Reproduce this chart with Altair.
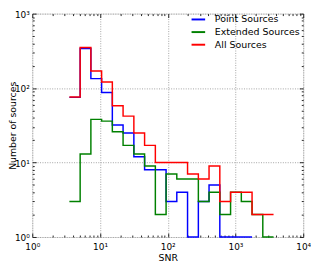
import altair as alt
import pandas as pd

# Histogram bin edges (SNR, log-spaced) and counts
edges = [3.53, 5.09, 7.33, 10.56, 15.2, 21.9, 31.6, 45.5, 65.6, 94.5,
         136, 196, 283, 407, 587, 846, 1219, 1756, 2530, 3646]
point_counts = [75, 340, 134, 87, 32, 25, 12, 8, 8, 3, 4, 1, 3, 5, 1, 1, 1]
extended_counts = [3, 13, 38, 36, 26, 17, 13, 9, 2, 7, 6, 6, 3, 4, 2, 4, 3, 2, 1]
all_counts = [76, 350, 170, 121, 58, 42, 25, 17, 10, 10, 10, 7, 6, 9, 3, 4, 4, 2, 2]

series_names = ["Point Sources", "Extended Sources", "All Sources"]
series_colors = ["#0000ff", "#008000", "#ff0000"]

x_major = [1, 10, 100, 1000, 10000]
y_major = [1, 10, 100, 1000]
minor_steps = [2, 3, 4, 5, 6, 7, 8, 9]
x_minor = [m * d for d in [1, 10, 100, 1000] for m in minor_steps]
y_minor = [m * d for d in [1, 10, 100] for m in minor_steps]

rows = []
for name, counts in zip(series_names, [point_counts, extended_counts, all_counts]):
    for i, c in enumerate(counts):
        rows.append({"series": name, "snr": edges[i], "count": c})
    rows.append({"series": name, "snr": edges[len(counts)], "count": counts[-1]})
df = pd.DataFrame(rows)

FONT = "DejaVu Sans"
W, H = 279, 230
xs = alt.Scale(type="log", domain=[1, 10000], nice=False)
ys = alt.Scale(type="log", domain=[1, 1000], nice=False)
sup = "'10' + ['\u2070','\u00b9','\u00b2','\u00b3','\u2074'][round(log(datum.value)/LN10)]"

lines = alt.Chart(df).mark_line(interpolate="step-after", strokeWidth=1.5).encode(
    x=alt.X("snr:Q", scale=xs, axis=alt.Axis(
        orient="bottom", values=x_major, labelExpr=sup, grid=True, labelFlush=False,
        gridDash=[1, 1.5], gridColor="#a0a0a0", gridWidth=1, ticks=False, domain=False,
        labelPadding=6, labelFontSize=9.2, labelColor="black", labelFont=FONT,
        title="SNR", titleFontSize=9.6, titleFontWeight="normal", titleColor="black",
        titleFont=FONT, titleY=16)),
    y=alt.Y("count:Q", scale=ys, axis=alt.Axis(
        orient="left", values=y_major, labelExpr=sup, grid=True, labelFlush=False,
        gridDash=[1, 1.5], gridColor="#a0a0a0", gridWidth=1, ticks=False, domain=False,
        labelPadding=3, labelOffset=1, labelFontSize=9.2, labelColor="black", labelFont=FONT,
        title="Number of sources", titleFontSize=9.6, titleFontWeight="normal",
        titleColor="black", titleFont=FONT, titleX=-17.5, titleY=H / 2, titleAngle=270,
        titleAlign="center", titleBaseline="alphabetic")),
    color=alt.Color("series:N", scale=alt.Scale(domain=series_names, range=series_colors),
                    legend=alt.Legend(title=None, orient="none", legendX=163, legendY=-2,
                                      symbolType="stroke", symbolSize=196, symbolStrokeWidth=2,
                                      labelFontSize=9.7, labelFont=FONT, labelColor="black",
                                      labelOffset=9, rowPadding=0, padding=0)),
)


def tick_layer(x_orient, y_orient, size, xvals, yvals):
    common = dict(offset=-size, tickSize=size, labels=False, domain=False, grid=False,
                  title=None, tickColor="#222222", tickWidth=1)
    return alt.Chart(df).mark_point(opacity=0).encode(
        x=alt.X("snr:Q", scale=xs, axis=alt.Axis(orient=x_orient, values=xvals, **common)),
        y=alt.Y("count:Q", scale=ys, axis=alt.Axis(orient=y_orient, values=yvals, **common)),
    )


chart = alt.layer(
    tick_layer("bottom", "left", 4, x_major, y_major),
    tick_layer("bottom", "left", 2, x_minor, y_minor),
    tick_layer("top", "right", 4, x_major, y_major),
    tick_layer("top", "right", 2, x_minor, y_minor),
    lines,
).resolve_axis(x="independent", y="independent").properties(
    width=W, height=H,
    autosize=alt.AutoSizeParams(type="none"),
    padding={"left": 25, "top": 2, "right": 8, "bottom": 24},
).configure_view(stroke="#222222", strokeWidth=1).configure(font=FONT)

chart.save("out.html", embed_options={"renderer": "svg", "actions": False})
